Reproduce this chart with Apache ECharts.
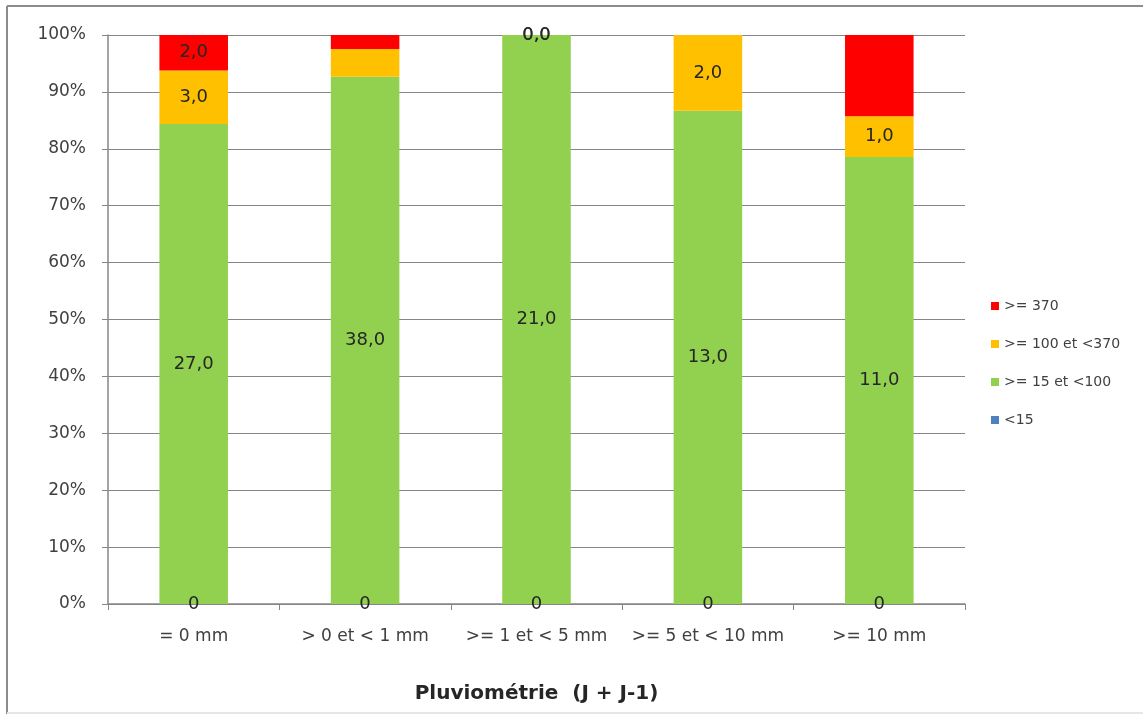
<!DOCTYPE html>
<html>
<head>
<meta charset="utf-8">
<script src="https://cdn.jsdelivr.net/npm/echarts@6/dist/echarts.min.js"></script>
<style>
  html, body { margin: 0; padding: 0; background: #fff; }
  #chart { width: 1143px; height: 720px; }
</style>
</head>
<body>
<div id="chart"></div>
<script>
// Rainfall classes (J + J-1) on the category axis
const categories = ['= 0 mm', '> 0 et < 1 mm', '>= 1 et < 5 mm', '>= 5 et < 10 mm', '>= 10 mm'];

// Counts per concentration class, one entry per rainfall class
const lt15 = [0, 0, 0, 0, 0];
const from15to100 = [27, 38, 21, 13, 11];
const from100to370 = [3, 2, 0, 2, 1];
const ge370 = [2, 1, 0, 0, 2];

// Which segments carry a value label
const showLt15 = [true, true, true, true, true];
const show15to100 = [true, true, true, true, true];
const show100to370 = [true, false, true, true, true];
const show370 = [true, false, true, false, false];

const yTicks = ['0%', '10%', '20%', '30%', '40%', '50%', '60%', '70%', '80%', '90%', '100%'];

const seriesDefs = [
  { name: '<15', values: lt15, shows: showLt15, color: '#4F81BD', decimals: 0 },
  { name: '>= 15 et <100', values: from15to100, shows: show15to100, color: '#92D050', decimals: 1 },
  { name: '>= 100 et <370', values: from100to370, shows: show100to370, color: '#FFC000', decimals: 1 },
  { name: '>= 370', values: ge370, shows: show370, color: '#FF0000', decimals: 1 }
];

const totals = categories.map((_, i) =>
  seriesDefs.reduce((s, d) => s + d.values[i], 0));

const fmt = (v, dec) => v.toFixed(dec).replace('.', ',');

const font = "'DejaVu Sans', sans-serif";

const series = seriesDefs.map(d => ({
  name: d.name,
  type: 'bar',
  stack: 'total',
  barWidth: '40%',
  itemStyle: { color: d.color },
  label: {
    show: true,
    position: 'inside',
    color: '#262626',
    fontSize: 18,
    fontFamily: font,
    formatter: p => fmt(p.data.raw, d.decimals)
  },
  data: d.values.map((v, i) => ({
    value: totals[i] ? v / totals[i] * 100 : 0,
    raw: v,
    label: { show: d.shows[i] }
  }))
}));

const chart = echarts.init(document.getElementById('chart'), null, { renderer: 'canvas' });
chart.setOption({
  backgroundColor: '#ffffff',
  animation: false,
  grid: { left: 108, right: 178, top: 35, bottom: 116 },
  legend: {
    orient: 'vertical',
    left: 986,
    top: 294,
    itemGap: 24,
    itemWidth: 8,
    itemHeight: 8,
    icon: 'rect',
    data: ['>= 370', '>= 100 et <370', '>= 15 et <100', '<15'],
    textStyle: { color: '#404040', fontSize: 14, fontFamily: font }
  },
  xAxis: {
    type: 'category',
    data: categories,
    name: 'Pluviométrie  (J + J-1)',
    nameLocation: 'middle',
    nameGap: 80,
    nameTextStyle: { fontSize: 20, fontWeight: 'bold', color: '#262626', fontFamily: font },
    axisLine: { lineStyle: { color: '#868686', width: 1.5 } },
    axisTick: { show: true, length: 6, lineStyle: { color: '#868686' } },
    axisLabel: {
      interval: 0,
      hideOverlap: false,
      color: '#404040',
      fontSize: 17,
      margin: 24,
      fontFamily: font
    }
  },
  yAxis: {
    type: 'value',
    min: 0,
    max: 100,
    interval: 10,
    axisLine: { show: true, lineStyle: { color: '#868686', width: 1.5 } },
    axisTick: { show: true, length: 6, lineStyle: { color: '#868686' } },
    splitLine: { lineStyle: { color: '#868686', width: 1 } },
    axisLabel: {
      color: '#404040',
      fontSize: 17,
      margin: 22,
      fontFamily: font,
      formatter: v => yTicks[Math.round(v / 10)]
    }
  },
  series: series,
  graphic: [
    // outer chart frame: darker top and left edges, faint bottom edge
    { type: 'line', shape: { x1: 7, y1: 6, x2: 1143, y2: 6 }, style: { stroke: '#8c8c8c', lineWidth: 2 }, silent: true },
    { type: 'line', shape: { x1: 7, y1: 6, x2: 7, y2: 714 }, style: { stroke: '#8c8c8c', lineWidth: 2 }, silent: true },
    { type: 'line', shape: { x1: 7, y1: 713, x2: 1143, y2: 713 }, style: { stroke: '#e6e6e6', lineWidth: 2 }, silent: true }
  ]
});
</script>
</body>
</html>
